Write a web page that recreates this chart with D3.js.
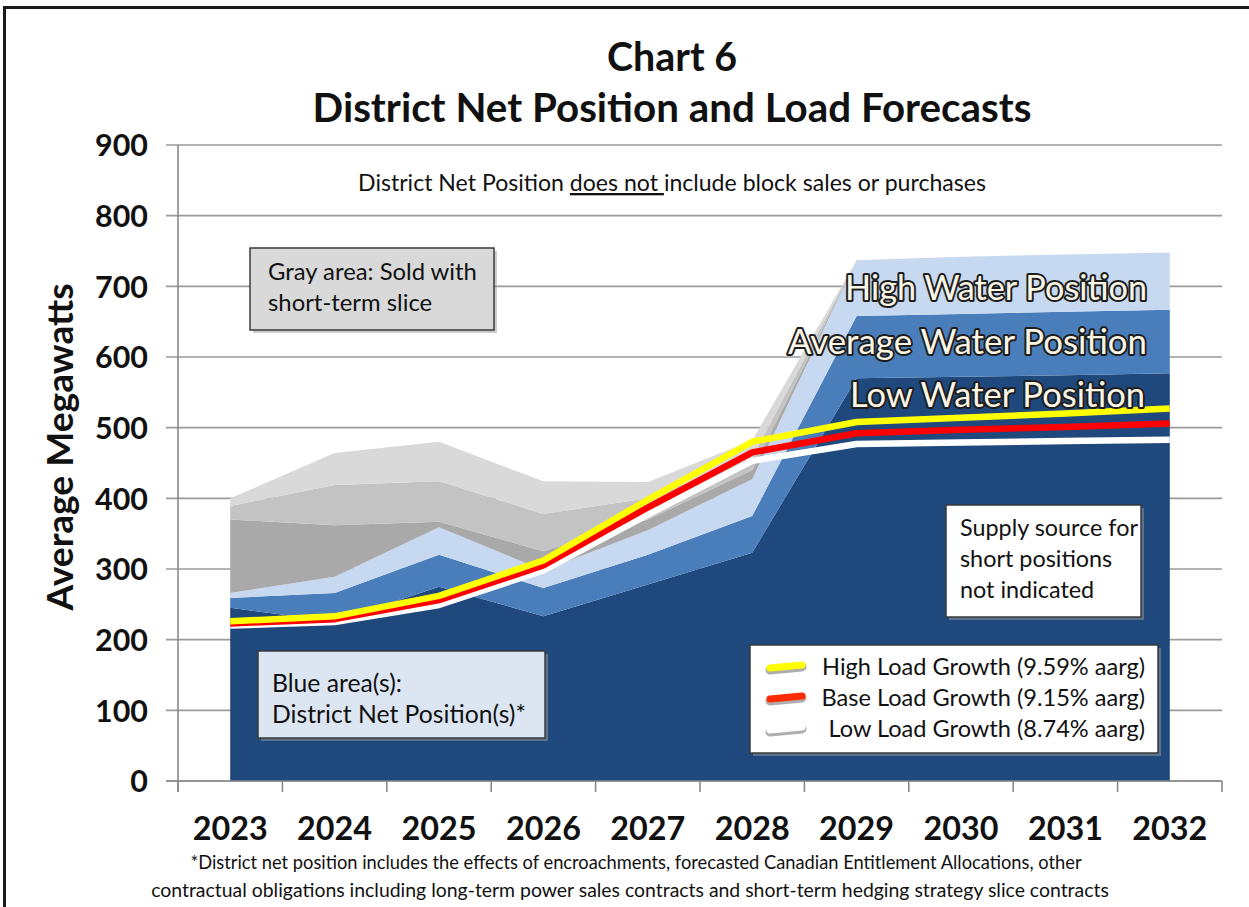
<!DOCTYPE html>
<html>
<head>
<meta charset="utf-8">
<script src="https://cdn.jsdelivr.net/npm/d3@7/dist/d3.min.js"></script>
<style>
  html, body { margin: 0; padding: 0; background: #ffffff; }
  svg { display: block; }
  text { font-family: Lato, "Open Sans", sans-serif; }
</style>
</head>
<body>
<svg id="chart" width="1249" height="907"></svg>
<script>
// Forecast years
const years = ["2023","2024","2025","2026","2027","2028","2029","2030","2031","2032"];

// District net position layers (average MW, stacked thickness)
const lowWater  = [245, 226, 275, 233, 278, 323, 570, 572, 574, 577];
const avgWater  = [14, 40, 45, 40, 42, 52, 88, 89, 90, 90];
const highWater = [7, 23, 39, 25, 35, 52, 79, 81, 81, 81];

// Short-term slice sales (gray layers, stacked thickness)
const sliceA = [104, 73, 8, 27, 15, 13, 0, 0, 0, 0];
const sliceB = [19, 57, 57, 53, 30, 18, 0, 0, 0, 0];
const sliceC = [11, 45, 56, 46, 23, 24, 0, 0, 0, 0];

// Load forecasts (average MW)
const highLoad = [226, 233, 262, 312, 398, 480, 508, 514, 520, 527];
const baseLoad = [223, 229, 256, 305, 387, 465, 492, 497, 501, 506];
const lowLoad  = [220, 225, 249, 298, 377, 453, 477, 479, 481, 483];

// Axis ticks
const yTicks = [0, 100, 200, 300, 400, 500, 600, 700, 800, 900];

const legendLabels = [
  "High Load Growth (9.59% aarg)",
  "Base Load Growth (9.15% aarg)",
  "Low Load Growth (8.74% aarg)"
];

const svg = d3.select("#chart");

// outer frame
svg.append("rect")
  .attr("x", 4.5).attr("y", 7.5).attr("width", 1270).attr("height", 920)
  .attr("fill", "none").attr("stroke", "#1a1a1a").attr("stroke-width", 3);

const plot = { left: 178, right: 1222, top: 145, bottom: 781 };

const x = d3.scaleBand().domain(years).range([plot.left, plot.right]).padding(0);
const xc = yr => x(yr) + x.bandwidth() / 2;
const y = d3.scaleLinear().domain([0, 900]).range([plot.bottom, plot.top]);

// scale the font so a text spans the given width
function fitWidth(sel, target) {
  const fs = parseFloat(sel.attr("font-size"));
  const w = sel.node().getComputedTextLength();
  sel.attr("font-size", (fs * target / w).toFixed(2));
  return sel;
}

// gridlines
svg.append("g").selectAll("line").data(yTicks).join("line")
  .attr("x1", plot.left - 12).attr("x2", plot.right)
  .attr("y1", d => y(d)).attr("y2", d => y(d))
  .attr("stroke", "#9a9a9a").attr("stroke-width", 1.6);

// stacked areas
const rows = years.map((yr, i) => ({
  year: yr,
  lowWater: lowWater[i], avgWater: avgWater[i], highWater: highWater[i],
  sliceA: sliceA[i], sliceB: sliceB[i], sliceC: sliceC[i]
}));
const keys = ["lowWater", "avgWater", "highWater", "sliceA", "sliceB", "sliceC"];
const colors = {
  lowWater: "#1f497d", avgWater: "#4a7ebb", highWater: "#c6d9f1",
  sliceA: "#a9a9a9", sliceB: "#c3c3c3", sliceC: "#d9d9d9"
};
const series = d3.stack().keys(keys)(rows);
const area = d3.area()
  .x(d => xc(d.data.year))
  .y0(d => y(d[0]))
  .y1(d => y(d[1]));

svg.append("g").selectAll("path").data(series).join("path")
  .attr("d", area)
  .attr("fill", s => colors[s.key]);

// axis lines and category tick marks
svg.append("line")
  .attr("x1", plot.left).attr("x2", plot.left)
  .attr("y1", plot.top).attr("y2", plot.bottom + 11)
  .attr("stroke", "#8a8a8a").attr("stroke-width", 1.6);
svg.append("line")
  .attr("x1", plot.left - 12).attr("x2", plot.right)
  .attr("y1", plot.bottom).attr("y2", plot.bottom)
  .attr("stroke", "#8a8a8a").attr("stroke-width", 1.6);
const bounds = years.map(yr => x(yr)).concat([plot.right]);
svg.append("g").selectAll("line").data(bounds).join("line")
  .attr("x1", d => d).attr("x2", d => d)
  .attr("y1", plot.bottom).attr("y2", plot.bottom + 11)
  .attr("stroke", "#8a8a8a").attr("stroke-width", 1.6);

// y axis labels
const yAxis = svg.append("g")
  .attr("transform", `translate(${plot.left},0)`)
  .call(d3.axisLeft(y).tickValues(yTicks).tickSize(0).tickPadding(30).tickFormat(d3.format("d")));
yAxis.select(".domain").remove();
yAxis.selectAll("text")
  .attr("font-family", "'DejaVu Sans', sans-serif")
  .attr("font-weight", "bold").attr("font-size", 25).attr("fill", "#111")
  .attr("dy", "0.36em");
{
  const t = yAxis.selectAll("text").filter(d => d === 900);
  const w = t.node().getComputedTextLength();
  yAxis.selectAll("text").attr("font-size", (25 * 53 / w).toFixed(2));
}

// x axis labels
const xAxis = svg.append("g")
  .attr("transform", `translate(0,${plot.bottom})`)
  .call(d3.axisBottom(x).tickSize(0).tickPadding(0));
xAxis.select(".domain").remove();
xAxis.selectAll("text")
  .attr("font-family", "Lato, sans-serif")
  .attr("font-weight", "bold").attr("font-size", 32).attr("fill", "#111")
  .attr("dy", 0).attr("y", 59);
{
  const w = xAxis.select("text").node().getComputedTextLength();
  xAxis.selectAll("text").attr("font-size", (32 * 75 / w).toFixed(2));
}

// load forecast lines
const line = d3.line().x((d, i) => xc(years[i])).y(d => y(d));
const loads = [
  { vals: lowLoad, color: "#ffffff" },
  { vals: baseLoad, color: "#ff0000" },
  { vals: highLoad, color: "#ffff00" }
];
svg.append("g").selectAll("path").data(loads).join("path")
  .attr("d", d => line(d.vals))
  .attr("fill", "none").attr("stroke", d => d.color)
  .attr("stroke-width", 6.5).attr("stroke-linejoin", "round");

// water position labels
const waterLabels = [
  { text: "High Water Position", x: 1147, y: 300, w: 302 },
  { text: "Average Water Position", x: 1147, y: 354, w: 359 },
  { text: "Low Water Position", x: 1145, y: 407, w: 295 }
];
waterLabels.forEach(l => {
  const t = svg.append("text")
    .attr("x", l.x).attr("y", l.y).attr("text-anchor", "end")
    .attr("font-size", 30).attr("fill", "#fbf6e6")
    .attr("stroke", "#1e1e1e").attr("stroke-width", 4)
    .attr("paint-order", "stroke").attr("stroke-linejoin", "round")
    .text(l.text);
  fitWidth(t, l.w);
});

// title
fitWidth(svg.append("text").attr("x", 672).attr("y", 71).attr("text-anchor", "middle")
  .attr("font-weight", "bold").attr("font-size", 36).attr("fill", "#111").text("Chart 6"), 130);
fitWidth(svg.append("text").attr("x", 672).attr("y", 122).attr("text-anchor", "middle")
  .attr("font-weight", "bold").attr("font-size", 36).attr("fill", "#111")
  .text("District Net Position and Load Forecasts"), 719);

// subtitle with underlined words
{
  const t = svg.append("text").attr("x", 672).attr("y", 191).attr("text-anchor", "middle")
    .attr("font-size", 20).attr("fill", "#111");
  t.append("tspan").text("District Net Position ");
  t.append("tspan").attr("text-decoration", "underline").text("does not ");
  t.append("tspan").text("include block sales or purchases");
  fitWidth(t, 628);
}

// y axis title
fitWidth(svg.append("text")
  .attr("transform", "translate(73,447) rotate(-90)")
  .attr("text-anchor", "middle").attr("font-weight", "bold").attr("font-size", 30)
  .attr("fill", "#111").text("Average Megawatts"), 327);

// annotation boxes with a soft drop shadow
function box(x0, y0, w, h, fill) {
  svg.append("rect").attr("x", x0 + 3).attr("y", y0 + 3).attr("width", w).attr("height", h)
    .attr("fill", "#9a9a9a").attr("opacity", 0.5);
  svg.append("rect").attr("x", x0).attr("y", y0).attr("width", w).attr("height", h)
    .attr("fill", fill).attr("stroke", "#3a3a3a").attr("stroke-width", 1.5);
}
// stacked text lines sharing one size; line `ref` spans `target` px
function lines(x0, ys, texts, ref, target, anchor) {
  const sel = texts.map((s, i) => svg.append("text").attr("x", x0).attr("y", ys[i])
    .attr("text-anchor", anchor || "start")
    .attr("font-size", 20).attr("fill", "#111").text(s));
  const w = sel[ref].node().getComputedTextLength();
  const fs = (20 * target / w).toFixed(2);
  sel.forEach(t => t.attr("font-size", fs));
}

box(250, 248, 244, 82, "#d9d9d9");
lines(268, [280, 311], ["Gray area: Sold with", "short-term slice"], 0, 209);

box(258, 651, 287, 87, "#dce6f2");
lines(272, [692, 723], ["Blue area(s):", "District Net Position(s)*"], 0, 130);

box(946, 505, 195, 112, "#ffffff");
lines(960, [536, 567, 598], ["Supply source for", "short positions", "not indicated"], 0, 178);

// legend
box(750, 645, 408, 108, "#ffffff");
const legendColors = ["#ffff00", "#ff2a00", "#ffffff"];
const legY = [675, 706, 737];
legendLabels.forEach((lab, i) => {
  svg.append("line")
    .attr("x1", 770).attr("x2", 802).attr("y1", legY[i] - 5).attr("y2", legY[i] - 8)
    .attr("stroke", "#7a7a7a").attr("stroke-width", 9).attr("stroke-linecap", "round")
    .attr("opacity", 0.6);
  svg.append("line")
    .attr("x1", 770).attr("x2", 802).attr("y1", legY[i] - 7).attr("y2", legY[i] - 10)
    .attr("stroke", legendColors[i]).attr("stroke-width", 7).attr("stroke-linecap", "round");
});
lines(1145, legY, legendLabels, 0, 323, "end");

// footnote
fitWidth(svg.append("text").attr("x", 636).attr("y", 869).attr("text-anchor", "middle")
  .attr("font-size", 17).attr("fill", "#111")
  .text("*District net position includes the effects of encroachments, forecasted Canadian Entitlement Allocations, other"), 892);
fitWidth(svg.append("text").attr("x", 630).attr("y", 897).attr("text-anchor", "middle")
  .attr("font-size", 17).attr("fill", "#111")
  .text("contractual obligations including long-term power sales contracts and short-term hedging strategy slice contracts"), 958);
</script>
</body>
</html>
